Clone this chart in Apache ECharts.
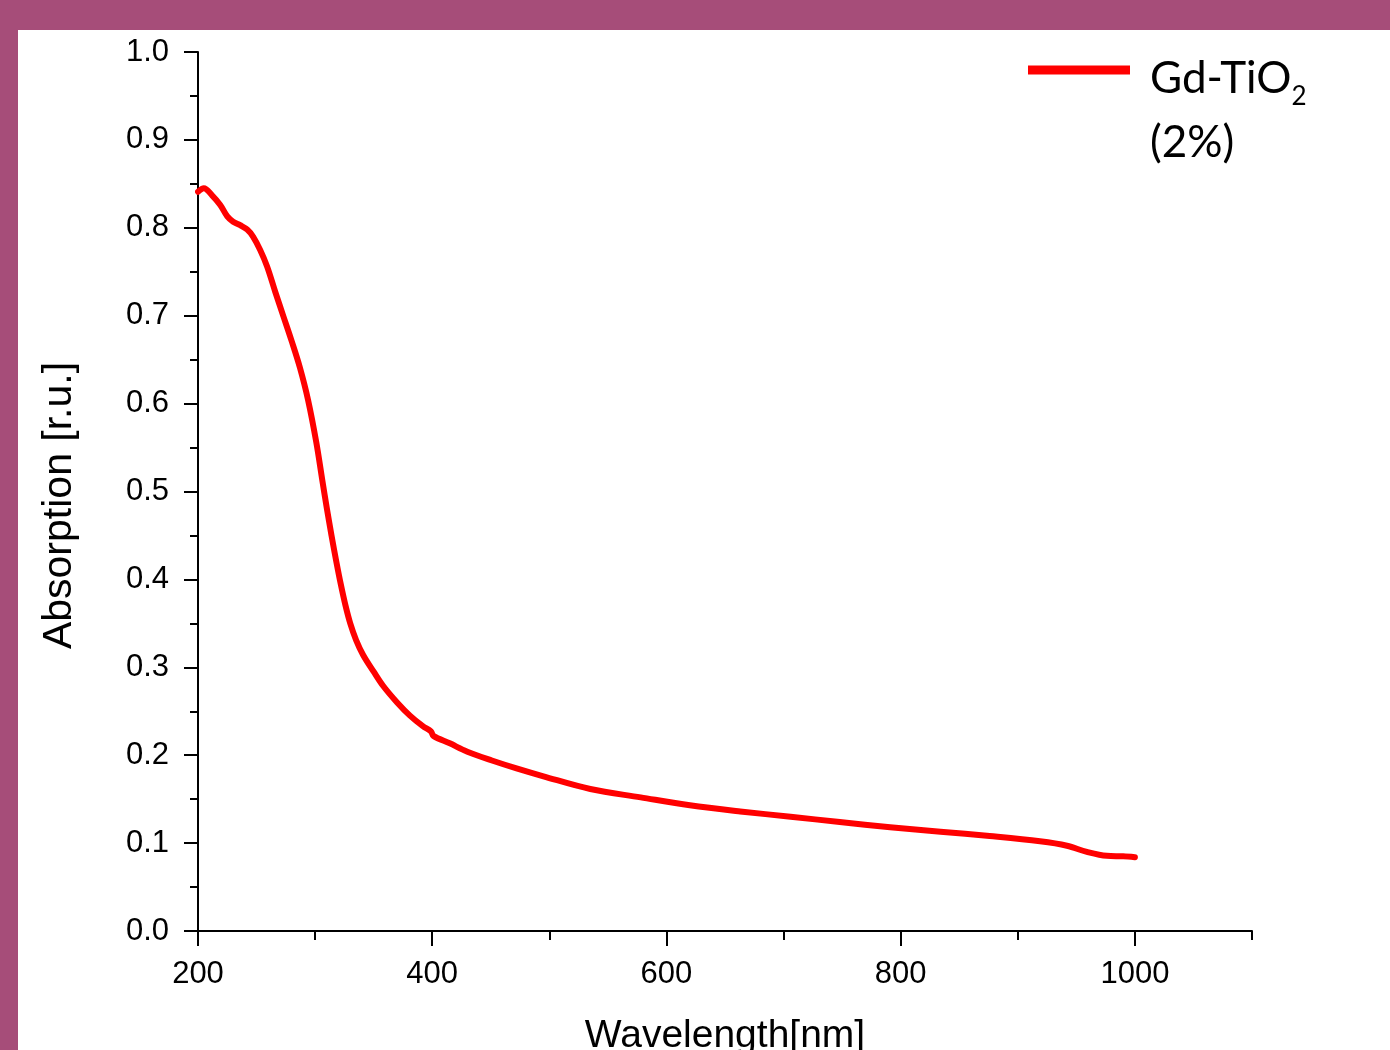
<!DOCTYPE html>
<html>
<head>
<meta charset="utf-8">
<script src="https://cdn.jsdelivr.net/npm/echarts@6/dist/echarts.min.js"></script>
<style>
  html, body { margin: 0; padding: 0; }
  body { width: 1390px; height: 1050px; background: #a64d79; overflow: hidden; position: relative; }
  #chart { position: absolute; left: 18px; top: 30px; width: 1372px; height: 1020px; background: #fff; }
</style>
</head>
<body>
<div id="chart"></div>
<script>
// wavelength in nm
const wavelength = [200, 205, 212, 219, 225, 230, 236, 242, 247, 253, 259, 266, 273, 280, 287, 294, 301, 306, 310, 314, 318, 322, 326, 330, 335, 341, 350, 358, 370, 381, 392, 399, 401, 415, 430, 451, 472, 495, 535, 578, 620, 663, 706, 748, 791, 834, 876, 919, 942, 959, 976, 990, 1000];
const absorption = [0.841, 0.845, 0.837, 0.826, 0.813, 0.807, 0.803, 0.798, 0.790, 0.775, 0.756, 0.727, 0.699, 0.671, 0.641, 0.604, 0.556, 0.514, 0.481, 0.450, 0.421, 0.394, 0.370, 0.350, 0.331, 0.314, 0.295, 0.279, 0.260, 0.245, 0.233, 0.227, 0.222, 0.2135, 0.204, 0.194, 0.185, 0.176, 0.1615, 0.152, 0.143, 0.136, 0.130, 0.124, 0.118, 0.113, 0.108, 0.102, 0.097, 0.090, 0.0855, 0.085, 0.084];
const xMajorTicks = [200, 400, 600, 800, 1000];
const xMinorTicks = [300, 500, 700, 900, 1100];
const seriesName = "Gd-TiO2 (2%)";

const chart = echarts.init(document.getElementById("chart"));

const axisFont = "'Liberation Sans', Arial, sans-serif";
const black = "#000";

chart.setOption({
  animation: false,
  grid: {
    left: 180,
    top: 22,
    width: 1054,
    height: 879,
    containLabel: false,
    outerBoundsMode: "none"
  },
  legend: {
    data: [seriesName],
    left: 1010,
    top: 18,
    padding: 0,
    itemWidth: 102,
    itemHeight: 9,
    icon: "rect",
    formatter: () => "{a|Gd-TiO}{s|2}\n{a|(2%)}",
    textStyle: {
      padding: [82, 0, 0, 15],
      rich: {
        a: { fontFamily: "Lato", fontSize: 44, lineHeight: 64, color: black },
        s: { fontFamily: "Lato", fontSize: 26, lineHeight: 20, padding: [36, 0, 0, 0], color: black }
      }
    }
  },
  xAxis: [
    {
      type: "value",
      min: 200,
      max: 1100,
      name: "Wavelength[nm]",
      nameLocation: "middle",
      nameGap: 86,
      nameTextStyle: { fontFamily: axisFont, fontSize: 39, color: black },
      axisLine: { onZero: false, lineStyle: { color: black, width: 2 } },
      axisTick: { customValues: xMajorTicks, length: 15, lineStyle: { color: black, width: 2 } },
      axisLabel: {
        customValues: xMajorTicks,
        margin: 28,
        fontFamily: axisFont,
        fontSize: 31,
        color: black,
        formatter: (v) => String(v)
      },
      splitLine: { show: false }
    },
    {
      type: "value",
      position: "bottom",
      min: 200,
      max: 1100,
      axisLine: { show: false, onZero: false },
      axisTick: { customValues: xMinorTicks, length: 9, lineStyle: { color: black, width: 2 } },
      axisLabel: { show: false },
      splitLine: { show: false }
    }
  ],
  yAxis: {
    type: "value",
    min: 0,
    max: 1,
    interval: 0.1,
    name: "Absorption [r.u.]",
    nameLocation: "middle",
    nameGap: 118,
    nameTextStyle: { fontFamily: axisFont, fontSize: 41, color: black, padding: [0, 28, 0, 0] },
    axisLine: { lineStyle: { color: black, width: 2 } },
    axisTick: { length: 14, lineStyle: { color: black, width: 2 } },
    minorTick: { show: true, splitNumber: 2, length: 8, lineStyle: { color: black, width: 2 } },
    axisLabel: {
      margin: 29,
      fontFamily: axisFont,
      fontSize: 31,
      color: black,
      formatter: (v) => v.toFixed(1)
    },
    splitLine: { show: false }
  },
  series: [
    {
      name: seriesName,
      type: "line",
      xAxisIndex: 0,
      data: wavelength.map((w, i) => [w, absorption[i]]),
      showSymbol: false,
      smooth: 0.35,
      lineStyle: { color: "#ff0000", width: 6, cap: "round", join: "round" },
      itemStyle: { color: "#ff0000" }
    }
  ]
});
</script>
</body>
</html>
